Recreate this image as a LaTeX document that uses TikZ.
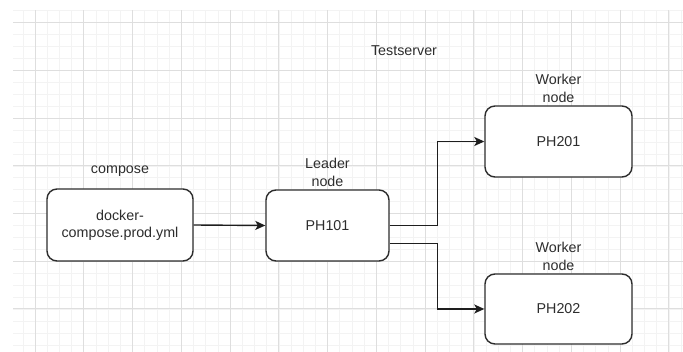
\documentclass[tikz,border=0pt]{standalone}
\usepackage{fontspec}
\setmainfont{Liberation Sans}
\usetikzlibrary{arrows.meta}
\usepackage{xcolor}

\definecolor{gridminor}{RGB}{243,243,243}
\definecolor{gridmajor}{RGB}{222,222,222}
\definecolor{ink}{RGB}{45,45,45}
\definecolor{wire}{RGB}{30,30,30}

\begin{document}
\begin{tikzpicture}[x=1pt, y=-1pt,
    box/.style={draw=ink, line width=1.4pt, rounded corners=10pt, fill=white,
        align=center, inner sep=0pt, text=ink,
        font=\fontsize{14.3}{17}\selectfont},
    tag/.style={align=center, inner sep=0pt, text=ink,
        font=\fontsize{14.3}{18}\selectfont},
    flow/.style={draw=wire, line width=1.4pt,
        -{Stealth[length=10pt, width=9pt, inset=2.5pt]}}]
			\useasboundingbox (0,0) rectangle (683,352);

			% background grid
			\begin{scope}
				\clip (13,11) rectangle (683,352);
				\foreach \i in {-2,...,55}
					\draw[gridminor, line width=0.6pt] (35+\i*12.19,0) -- (35+\i*12.19,352);
				\foreach \j in {-2,...,29}
					\draw[gridminor, line width=0.6pt] (0,22.7+\j*11.93) -- (683,22.7+\j*11.93);
				\foreach \i in {-1,...,14}
					\draw[gridmajor, line width=0.8pt] (35+\i*48.75,0) -- (35+\i*48.75,352);
				\foreach \j in {-1,...,7}
					\draw[gridmajor, line width=0.8pt] (0,22.7+\j*47.7) -- (683,22.7+\j*47.7);
			\end{scope}

			\node[tag] (server) at (404,51) {Testserver};

			\node[box, minimum width=146pt, minimum height=72pt] (yml) at (120,225) {docker-\\compose.prod.yml};
			\node[box, minimum width=123pt, minimum height=71pt] (leader) at (327.5,225.5) {PH101};
			\node[box, minimum width=147pt, minimum height=71pt] (ph201) at (558.5,141.5) {PH201};
			\node[box, minimum width=147pt, minimum height=70pt] (ph202) at (558.5,309) {PH202};

			\node[tag] (ymltag) at (120,171) {compose};
			\node[tag] (leadertag) at (327.5,172) {Leader\\node};
			\node[tag] (ph201tag) at (558.5,88) {Worker\\node};
			\node[tag] (ph202tag) at (558.5,256) {Worker\\node};

			\draw[flow] (yml.east) -- (leader.west);
			\draw[flow] (leader.east) -- ++(48,0) |- (ph201.west);
			\draw[flow] ([yshift=-18pt]leader.east) -- ++(48,0) |- (ph202.west);
		\end{tikzpicture}
\end{document}
